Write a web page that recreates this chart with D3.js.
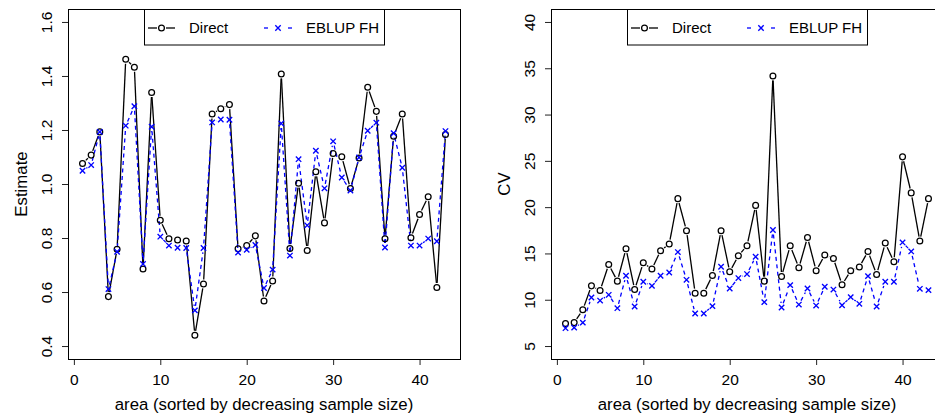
<!DOCTYPE html>
<html>
<head>
<meta charset="utf-8">
<script src="https://cdn.jsdelivr.net/npm/d3@7"></script>
<style>
  html, body { margin: 0; padding: 0; background: #fff; }
  svg { display: block; font-family: "Liberation Sans", Arial, sans-serif; }
</style>
</head>
<body>
<svg id="chart" width="935" height="417"></svg>
<script>
// ---------- data ----------
const areas = [1,2,3,4,5,6,7,8,9,10,11,12,13,14,15,16,17,18,19,20,21,22,23,24,25,26,27,28,29,30,31,32,33,34,35,36,37,38,39,40,41,42,43];

const estDirect = [1.076,1.107,1.193,0.583,0.758,1.462,1.432,0.685,1.339,0.866,0.797,0.793,0.789,0.440,0.630,1.259,1.279,1.294,0.760,0.772,0.808,0.567,0.641,1.407,0.761,1.003,0.754,1.045,0.856,1.113,1.101,0.983,1.096,1.358,1.269,0.797,1.177,1.259,0.801,0.887,0.953,0.617,1.183];
const estEBLUP  = [1.049,1.070,1.193,0.611,0.749,1.216,1.288,0.704,1.212,0.805,0.772,0.764,0.763,0.532,0.763,1.228,1.239,1.238,0.746,0.756,0.774,0.615,0.683,1.224,0.735,1.092,0.847,1.123,0.984,1.158,1.024,0.976,1.098,1.197,1.227,0.765,1.188,1.060,0.772,0.772,0.798,0.788,1.196];

const cvDirect = [7.43,7.53,8.91,11.50,11.00,13.81,12.01,15.51,11.10,13.99,13.31,15.29,16.02,20.92,17.46,10.71,10.71,12.62,17.46,13.02,14.75,15.83,20.19,12.01,34.16,12.51,15.83,13.45,16.73,13.13,14.83,14.46,11.61,13.13,13.53,15.22,12.73,16.12,14.10,25.43,21.54,16.34,20.92];
const cvEBLUP  = [6.93,6.99,7.53,10.24,9.91,10.53,9.09,12.59,9.27,11.94,11.50,12.59,12.94,15.15,12.15,8.51,8.51,9.31,13.56,11.21,12.34,12.77,14.64,9.74,17.53,9.16,11.58,9.48,11.21,9.37,11.40,11.10,9.41,10.28,9.56,12.55,9.27,11.94,11.94,16.19,15.22,11.18,11.04];

const xTicks = [0,10,20,30,40];
const estTicks = [0.4,0.6,0.8,1.0,1.2,1.4,1.6];
const estTickLabels = ["0.4","0.6","0.8","1.0","1.2","1.4","1.6"];
const cvTicks = [5,10,15,20,25,30,35,40];
const cvTickLabels = ["5","10","15","20","25","30","35","40"];

const seriesNames = ["Direct", "EBLUP FH"];
const xTitle = "area (sorted by decreasing sample size)";

// ---------- drawing ----------
const svg = d3.select("#chart");
const FONT_TICK = 15.5;
const FONT_TITLE = 16.8;
const FONT_LEG = 15;

function panel(opts) {
  const { left, right, top, bottom, xDomain, yDomain, yTicks, yLabels, yTitle, s1, s2 } = opts;
  const x = d3.scaleLinear().domain(xDomain).range([left, right]);
  const y = d3.scaleLinear().domain(yDomain).range([bottom, top]);
  const g = svg.append("g");

  const clipId = "clip" + Math.round(left);
  svg.append("clipPath").attr("id", clipId)
    .append("rect").attr("x", left).attr("y", top).attr("width", right - left).attr("height", bottom - top);

  // x axis
  const xAxis = d3.axisBottom(x).tickValues(xTicks).tickSize(6).tickPadding(9).tickFormat(d3.format("d"));
  const gx = g.append("g").attr("transform", `translate(0,${bottom})`).call(xAxis);
  gx.select(".domain").remove();
  gx.append("line").attr("x1", x(xTicks[0])).attr("x2", x(xTicks[xTicks.length-1])).attr("y1", 0.5).attr("y2", 0.5).attr("stroke", "#000");
  gx.selectAll(".tick line").attr("stroke", "#222");
  gx.selectAll(".tick text").attr("font-size", FONT_TICK).attr("fill", "#000")
    .attr("font-family", "Liberation Sans, Arial, sans-serif");

  // y axis (rotated labels, like R's default las=0)
  const yAxis = d3.axisLeft(y).tickValues(yTicks).tickSize(6).tickFormat((d, i) => yLabels[i]);
  const gy = g.append("g").attr("transform", `translate(${left},0)`).call(yAxis);
  gy.select(".domain").remove();
  gy.selectAll(".tick line").attr("stroke", "#222");
  gy.selectAll(".tick text")
    .attr("font-size", FONT_TICK).attr("fill", "#000")
    .attr("font-family", "Liberation Sans, Arial, sans-serif")
    .attr("x", null).attr("dy", null)
    .attr("text-anchor", "middle")
    .attr("transform", "translate(-16,0) rotate(-90)");

  // box
  g.append("rect").attr("x", left + 0.5).attr("y", top + 0.5)
    .attr("width", right - left).attr("height", bottom - top)
    .attr("fill", "none").attr("stroke", "#000").attr("stroke-width", 1);

  // titles
  g.append("text").attr("x", (x(-0.68) + x(44.68)) / 2).attr("y", bottom + 51)
    .attr("text-anchor", "middle").attr("font-size", FONT_TITLE).text(xTitle);
  g.append("text").attr("transform", `translate(${left - 41},${(top + bottom) / 2}) rotate(-90)`)
    .attr("text-anchor", "middle").attr("font-size", FONT_TITLE).text(yTitle);

  const content = g.append("g").attr("clip-path", `url(#${clipId})`);

  // type = "b" lines with gaps
  function gappedLines(vals, gap, color, dash) {
    const pts = areas.map((a, i) => [x(a), y(vals[i])]);
    const segs = [];
    for (let i = 0; i < pts.length - 1; i++) {
      const [x1, y1] = pts[i], [x2, y2] = pts[i + 1];
      const dx = x2 - x1, dy = y2 - y1, L = Math.hypot(dx, dy);
      if (L <= 2 * gap) continue;
      const ux = dx / L, uy = dy / L;
      segs.push([x1 + ux * gap, y1 + uy * gap, x2 - ux * gap, y2 - uy * gap]);
    }
    content.append("g").selectAll("line").data(segs).join("line")
      .attr("x1", d => d[0]).attr("y1", d => d[1]).attr("x2", d => d[2]).attr("y2", d => d[3])
      .attr("stroke", color).attr("stroke-width", 1.3)
      .attr("stroke-dasharray", dash || null);
  }

  gappedLines(s1, 4.5, "#000", null);
  gappedLines(s2, 4.5, "#0000ff", "4,3.5");

  content.append("g").selectAll("circle").data(areas).join("circle")
    .attr("cx", d => x(d)).attr("cy", (d, i) => y(s1[i])).attr("r", 2.9)
    .attr("fill", "none").attr("stroke", "#000").attr("stroke-width", 1.25);

  const h = 2.7;
  content.append("g").selectAll("path").data(areas).join("path")
    .attr("d", (d, i) => {
      const cx = x(d), cy = y(s2[i]);
      return `M${cx - h},${cy - h}L${cx + h},${cy + h}M${cx - h},${cy + h}L${cx + h},${cy - h}`;
    })
    .attr("stroke", "#0000ff").attr("stroke-width", 1.35).attr("fill", "none");

  // legend (top)
  const lw = 240, lh = 35.5;
  const cxMid = (x(-0.68) + x(44.68)) / 2;
  const lx = cxMid - lw / 2, ly = top;
  const lg = g.append("g");
  lg.append("rect").attr("x", lx + 0.5).attr("y", ly + 0.5).attr("width", lw).attr("height", lh)
    .attr("fill", "#fff").attr("stroke", "#000").attr("stroke-width", 1);
  const rowY = ly + 19;
  lg.append("line").attr("x1", lx + 4).attr("x2", lx + 13).attr("y1", rowY).attr("y2", rowY).attr("stroke", "#000").attr("stroke-width", 1.3);
  lg.append("line").attr("x1", lx + 22).attr("x2", lx + 31).attr("y1", rowY).attr("y2", rowY).attr("stroke", "#000").attr("stroke-width", 1.3);
  lg.append("circle").attr("cx", lx + 17.5).attr("cy", rowY).attr("r", 2.9).attr("fill", "none").attr("stroke", "#000").attr("stroke-width", 1.25);
  lg.append("text").attr("x", lx + 45).attr("y", rowY + 5.3).attr("font-size", FONT_LEG).text(seriesNames[0]);
  const ex = lx + 134;
  lg.append("line").attr("x1", ex - 14).attr("x2", ex - 10).attr("y1", rowY).attr("y2", rowY).attr("stroke", "#0000ff").attr("stroke-width", 1.3);
  lg.append("line").attr("x1", ex + 10).attr("x2", ex + 14).attr("y1", rowY).attr("y2", rowY).attr("stroke", "#0000ff").attr("stroke-width", 1.3);
  lg.append("path").attr("d", `M${ex - h},${rowY - h}L${ex + h},${rowY + h}M${ex - h},${rowY + h}L${ex + h},${rowY - h}`)
    .attr("stroke", "#0000ff").attr("stroke-width", 1.35);
  lg.append("text").attr("x", lx + 162).attr("y", rowY + 5.3).attr("font-size", FONT_LEG).text(seriesNames[1]);
}

panel({
  left: 68, right: 460, top: 9, bottom: 359,
  xDomain: [-0.68, 44.68], yDomain: [0.352, 1.648],
  yTicks: estTicks, yLabels: estTickLabels, yTitle: "Estimate",
  s1: estDirect, s2: estEBLUP
});
panel({
  left: 551, right: 943, top: 9, bottom: 359,
  xDomain: [-0.68, 44.68], yDomain: [3.6, 41.4],
  yTicks: cvTicks, yLabels: cvTickLabels, yTitle: "CV",
  s1: cvDirect, s2: cvEBLUP
});
</script>
</body>
</html>
